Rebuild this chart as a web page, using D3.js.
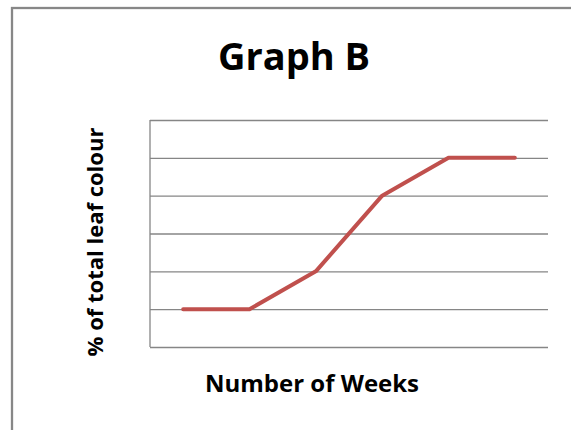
<!DOCTYPE html>
<head>
  <style>
    body { margin: 0; background: #fff; }
    text { font-family: "Open Sans", sans-serif; font-weight: bold; fill: #000; }
  </style>
  <title>Graph B</title>
</head>
<body>
  <script src="https://cdn.jsdelivr.net/npm/d3@7"></script>
  <script>
    // data (y units = gridline steps)
    var weeks = ["1", "2", "3", "4", "5", "6"];
    var leafColour = [1, 1, 2, 4, 5, 5];
    var yTicks = [0, 1, 2, 3, 4, 5, 6];

    var W = 571, H = 430;
    var margin = {top: 120, right: 23, bottom: 83, left: 150},
        width = W - margin.left - margin.right,
        height = H - margin.top - margin.bottom;

    var svg = d3.select("body").append("svg")
        .attr("width", W)
        .attr("height", H);

    // outer frame (right and bottom run off the page)
    svg.append("rect")
      .attr("x", 12).attr("y", 8)
      .attr("width", W + 20).attr("height", H + 20)
      .attr("fill", "none")
      .attr("stroke", "#878787")
      .attr("stroke-width", 2.3);

    var g = svg.append("g")
      .attr("transform", "translate(" + margin.left + "," + margin.top + ")");

    var x = d3.scalePoint().domain(weeks).range([0, width]).padding(0.5);
    var y = d3.scaleLinear().domain([0, 6]).range([height, 0]);

    // gridlines
    g.append("g")
      .call(d3.axisLeft(y).tickValues(yTicks).tickSize(-width).tickFormat(""))
      .call(function (a) {
        a.select(".domain").remove();
        a.selectAll("line").attr("stroke", "#868686").attr("stroke-width", 1.3);
      });

    // left axis line
    g.append("line")
      .attr("x1", 0).attr("x2", 0)
      .attr("y1", 0).attr("y2", height)
      .attr("stroke", "#868686")
      .attr("stroke-width", 1.3);

    // series line
    var line = d3.line()
      .x(function (d, i) { return x(weeks[i]); })
      .y(function (d) { return y(d); });

    g.append("path")
      .datum(leafColour)
      .attr("d", line)
      .attr("fill", "none")
      .attr("stroke", "#C0504D")
      .attr("stroke-width", 4)
      .attr("stroke-linecap", "round")
      .attr("stroke-linejoin", "round");

    // title
    svg.append("text")
      .attr("x", 294).attr("y", 70)
      .attr("font-size", "38px")
      .attr("text-anchor", "middle")
      .text("Graph B");

    // x label
    svg.append("text")
      .attr("x", 312).attr("y", 392)
      .attr("font-size", "24px")
      .attr("text-anchor", "middle")
      .text("Number of Weeks");

    // y label
    svg.append("text")
      .attr("transform", "translate(103,242) rotate(-90)")
      .attr("font-size", "22px")
      .attr("text-anchor", "middle")
      .text("% of total leaf colour");
  </script>
</body>
